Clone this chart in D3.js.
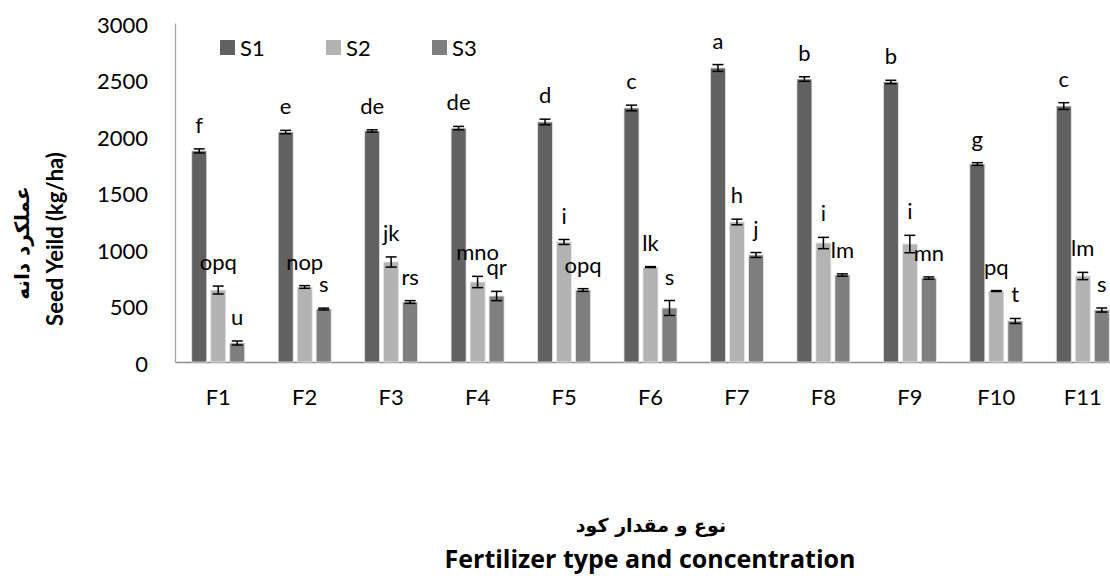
<!DOCTYPE html>
<html>
<head>
<meta charset="utf-8">
<script src="https://d3js.org/d3.v7.min.js"></script>
<style>
  body { margin: 0; background: #fff; }
  text { font-family: Lato, "Open Sans", sans-serif; fill: #000; }
</style>
</head>
<body>
<div id="chart"></div>
<script>
// data
var categories = ["F1", "F2", "F3", "F4", "F5", "F6", "F7", "F8", "F9", "F10", "F11"];
var seriesNames = ["S1", "S2", "S3"];
var s1 = [1868, 2035, 2045, 2070, 2124, 2248, 2602, 2504, 2478, 1752, 2265];
var s2 = [637, 664, 885, 708, 1062, 840, 1239, 1053, 1044, 628, 761];
var s3 = [168, 469, 531, 584, 637, 478, 947, 770, 743, 363, 460];
var s1Err = [18, 15, 10, 15, 25, 25, 30, 20, 15, 12, 30];
var s2Err = [35, 12, 45, 50, 22, 4, 25, 50, 77, 4, 32];
var s3Err = [18, 8, 12, 41, 12, 66, 22, 10, 10, 22, 18];
var s1Letters = ["f", "e", "de", "de", "d", "c", "a", "b", "b", "g", "c"];
var s2Letters = ["opq", "nop", "jk", "mno", "i", "lk", "h", "i", "i", "pq", "lm"];
var s3Letters = ["u", "s", "rs", "qr", "opq", "s", "j", "lm", "mn", "t", "s"];
var yTicks = [0, 500, 1000, 1500, 2000, 2500, 3000];

var width = 1110, height = 576;
var colors = { S1: "#616161", S2: "#b3b3b3", S3: "#7f7f7f" };

var values = { S1: s1, S2: s2, S3: s3 };
var errs = { S1: s1Err, S2: s2Err, S3: s3Err };
var letters = { S1: s1Letters, S2: s2Letters, S3: s3Letters };

var rows = [];
categories.forEach(function(c, i) {
    seriesNames.forEach(function(s) {
        rows.push({ cat: c, series: s, value: values[s][i], err: errs[s][i], letter: letters[s][i] });
    });
});

var svg = d3.select("#chart").append("svg")
    .attr("width", width)
    .attr("height", height);

var x0 = d3.scaleBand().domain(categories).range([175, 1126]);
var bw = x0.bandwidth();
var x1 = d3.scaleBand().domain(seriesNames)
    .range([bw / 2 - 26.5, bw / 2 + 26.5])
    .paddingInner(4 / 19);
var y = d3.scaleLinear().domain([0, 3000]).range([362, 23]);

// y axis
var yAxis = svg.append("g")
    .attr("transform", "translate(175,0)")
    .call(d3.axisLeft(y).tickValues(yTicks).tickFormat(d3.format("d")).tickSize(0).tickPadding(27));
yAxis.select(".domain").attr("stroke", "#a6a6a6").attr("stroke-width", 1.3);
yAxis.selectAll("text").style("font-size", "22px").attr("dy", "0.42em");

// x axis
var xAxis = svg.append("g")
    .attr("transform", "translate(0,362)")
    .call(d3.axisBottom(x0).tickSize(0).tickPadding(27));
xAxis.select(".domain").attr("stroke", "#8c8c8c").attr("stroke-width", 1.3);
xAxis.selectAll("text").style("font-size", "22px");

// bars
var g = svg.append("g");
g.selectAll("rect.bar")
    .data(rows)
    .enter()
    .append("rect")
    .attr("class", "bar")
    .attr("x", function(d) { return x0(d.cat) + x1(d.series); })
    .attr("width", x1.bandwidth())
    .attr("y", function(d) { return y(d.value); })
    .attr("height", function(d) { return y(0) - y(d.value); })
    .attr("fill", function(d) { return colors[d.series]; })
    .attr("stroke", "#e6e6e6")
    .attr("stroke-width", 0.8);

// error bars
var eb = g.selectAll("g.err")
    .data(rows)
    .enter()
    .append("g")
    .attr("class", "err")
    .attr("stroke", "#000")
    .attr("stroke-width", 1.5);
function cx(d) { return x0(d.cat) + x1(d.series) + x1.bandwidth() / 2; }
eb.append("line")
    .attr("x1", cx).attr("x2", cx)
    .attr("y1", function(d) { return y(d.value + d.err); })
    .attr("y2", function(d) { return y(d.value - d.err); });
eb.append("line")
    .attr("x1", function(d) { return cx(d) - 5.5; })
    .attr("x2", function(d) { return cx(d) + 5.5; })
    .attr("y1", function(d) { return y(d.value + d.err); })
    .attr("y2", function(d) { return y(d.value + d.err); });
eb.append("line")
    .attr("x1", function(d) { return cx(d) - 5.5; })
    .attr("x2", function(d) { return cx(d) + 5.5; })
    .attr("y1", function(d) { return y(d.value - d.err); })
    .attr("y2", function(d) { return y(d.value - d.err); });

// letters
g.selectAll("text.letter")
    .data(rows)
    .enter()
    .append("text")
    .attr("class", "letter")
    .attr("x", cx)
    .attr("y", function(d) { return y(d.value + d.err) - 16; })
    .attr("text-anchor", "middle")
    .style("font-size", "22px")
    .text(function(d) { return d.letter; });

// legend
var legend = svg.append("g")
    .selectAll("g")
    .data(seriesNames)
    .enter()
    .append("g")
    .attr("transform", function(d, i) { return "translate(" + (220 + i * 106) + ",40)"; });
legend.append("rect")
    .attr("width", 15)
    .attr("height", 15)
    .attr("fill", function(d) { return colors[d]; });
legend.append("text")
    .attr("x", 20)
    .attr("y", 8)
    .attr("dy", "0.38em")
    .style("font-size", "22px")
    .text(function(d) { return d; });

// axis titles
svg.append("text")
    .attr("transform", "translate(63,239) rotate(-90)")
    .attr("text-anchor", "middle")
    .style("font-size", "22px")
    .style("font-weight", "bold")
    .text("Seed Yeild (kg/ha)");
svg.append("text")
    .attr("transform", "translate(29,243) rotate(-90)")
    .attr("text-anchor", "middle")
    .style("font-family", "'DejaVu Sans', sans-serif")
    .style("font-size", "20px")
    .style("font-weight", "bold")
    .attr("direction", "rtl")
    .text("عملکرد دانه");
svg.append("text")
    .attr("x", 651)
    .attr("y", 532)
    .attr("text-anchor", "middle")
    .style("font-family", "'DejaVu Sans', sans-serif")
    .style("font-size", "19px")
    .style("font-weight", "bold")
    .attr("direction", "rtl")
    .text("نوع و مقدار کود");
svg.append("text")
    .attr("x", 650)
    .attr("y", 568)
    .attr("text-anchor", "middle")
    .style("font-family", "'Open Sans', sans-serif")
    .style("font-size", "25px")
    .style("font-weight", "bold")
    .text("Fertilizer type and concentration");
</script>
</body>
</html>
